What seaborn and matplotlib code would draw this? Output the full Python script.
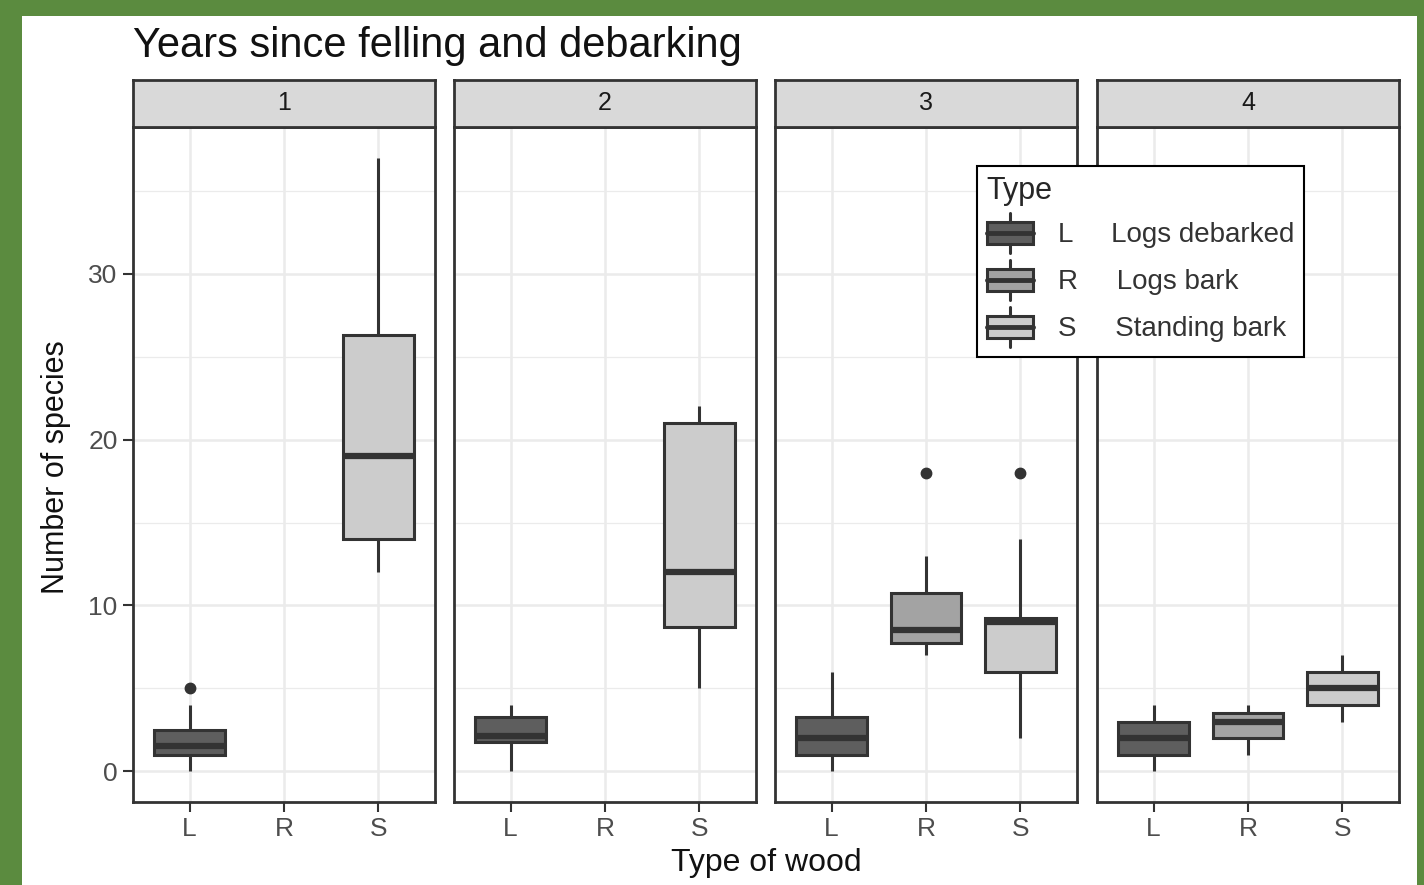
import numpy as np
import pandas as pd
import matplotlib
matplotlib.use("Agg")
import matplotlib.pyplot as plt
import seaborn as sns
from matplotlib.legend_handler import HandlerBase
from matplotlib.patches import Rectangle, Patch
from matplotlib.lines import Line2D

# ---------------- data ----------------
years = [1, 2, 3, 4]
wood_types = ["L", "R", "S"]
type_names = ["Logs debarked", "Logs bark", "Standing bark"]
fills = ["#5E5E5E", "#A3A3A3", "#CCCCCC"]

# box summaries: lower whisker, Q1, median, Q3, upper whisker
box_year = [1, 1, 2, 2, 3, 3, 3, 4, 4, 4]
box_type = ["L", "S", "L", "S", "L", "R", "S", "L", "R", "S"]
whisker_low = [0, 12, 0, 5, 0, 7, 2, 0, 1, 3]
q1 = [1, 14, 1.75, 8.7, 1, 7.75, 6, 1, 2, 4]
median = [1.5, 19, 2.1, 12, 2, 8.5, 9, 2, 3, 5]
q3 = [2.5, 26.3, 3.25, 21, 3.25, 10.75, 9.25, 3, 3.5, 6]
whisker_high = [4, 37, 4, 22, 6, 13, 14, 4, 4, 7]

outlier_year = [1, 3, 3]
outlier_type = ["L", "R", "S"]
outlier_value = [5, 18, 18]

y_ticks = [0, 10, 20, 30]

# observations reproducing each box's summary
rows = []
for yr, t, lo, a, m, b, hi in zip(box_year, box_type, whisker_low, q1, median, q3, whisker_high):
    for v in [lo, a, a, m, m, b, b, hi]:
        rows.append({"year": yr, "wood": t, "species": v})
for yr, t, v in zip(outlier_year, outlier_type, outlier_value):
    rows.append({"year": yr, "wood": t, "species": v})
df = pd.DataFrame(rows)

# ---------------- figure ----------------
sns.set_theme(style="white")
plt.rcParams["font.family"] = ["Liberation Sans", "DejaVu Sans"]

W, H = 1424, 885
fig = plt.figure(figsize=(W / 100, H / 100), dpi=100)
fig.patch.set_facecolor("#5B8B3F")
fig.add_artist(Rectangle((22 / W, 0), (1417 - 22) / W, (H - 16) / H,
                         transform=fig.transFigure, facecolor="white",
                         edgecolor="none", zorder=0))

LINE = "#333333"
palette = dict(zip(wood_types, fills))
lefts = [133, 454, 775, 1097]
pw = 302
p_top, p_bot = 127, 802
s_top = 80

for i, yr in enumerate(years):
    ax = fig.add_axes([lefts[i] / W, 1 - p_bot / H, pw / W, (p_bot - p_top) / H])
    sub = df[df["year"] == yr]
    sns.boxplot(data=sub, x="wood", y="species", hue="wood",
                order=wood_types, hue_order=wood_types, palette=palette,
                width=0.75, linecolor=LINE, linewidth=2.2, showcaps=False,
                legend=False, saturation=1,
                medianprops=dict(linewidth=4.5, color=LINE),
                flierprops=dict(marker="o", markersize=7.5,
                                markerfacecolor=LINE, markeredgecolor=LINE),
                ax=ax)
    ax.set_xlim(-0.6, 2.6)
    ax.set_ylim(-1.85, 38.85)
    ax.set_yticks(y_ticks)
    ax.set_yticks([5, 15, 25, 35], minor=True)
    ax.set_xticks(range(len(wood_types)))
    ax.set_xticklabels(wood_types)
    ax.set_axisbelow(True)
    ax.grid(which="major", color="#EBEBEB", linewidth=1.8)
    ax.grid(which="minor", axis="y", color="#EBEBEB", linewidth=0.9)
    ax.set_xlabel("")
    ax.set_ylabel("")
    for sp in ax.spines.values():
        sp.set_visible(True)
        sp.set_color(LINE)
        sp.set_linewidth(2)
    ax.tick_params(axis="both", which="major", length=7, width=1.5, color=LINE,
                   labelcolor="#4D4D4D", labelsize=19, pad=4,
                   bottom=True, left=True)
    ax.tick_params(axis="y", which="minor", length=0)
    if i > 0:
        ax.tick_params(axis="y", left=False, labelleft=False)

    sax = fig.add_axes([lefts[i] / W, 1 - p_top / H, pw / W, (p_top - s_top) / H])
    sax.set_facecolor("#D9D9D9")
    sax.set_xticks([])
    sax.set_yticks([])
    for sp in sax.spines.values():
        sp.set_visible(True)
        sp.set_color(LINE)
        sp.set_linewidth(2)
    sax.text(0.5, 0.5, str(yr), ha="center", va="center", fontsize=18,
             color="#1A1A1A", transform=sax.transAxes)

fig.text(133 / W, 1 - 46 / H, "Years since felling and debarking",
         ha="left", va="center", fontsize=30, color="#111111")
fig.text(56 / W, 1 - 467 / H, "Number of species", rotation=90,
         ha="center", va="center", fontsize=22, color="#111111")
fig.text(766 / W, 1 - 863 / H, "Type of wood", ha="center", va="center",
         fontsize=23, color="#111111")


class BoxHandler(HandlerBase):
    def create_artists(self, legend, orig_handle, xdescent, ydescent,
                       width, height, fontsize, trans):
        fc = orig_handle.get_facecolor()
        x0, y0 = -xdescent, -ydescent
        cx = x0 + width / 2
        lo, hi = y0 + height * 0.22, y0 + height * 0.78
        w1 = Line2D([cx, cx], [y0, lo], color=LINE, lw=2.2, transform=trans)
        w2 = Line2D([cx, cx], [hi, y0 + height], color=LINE, lw=2.2, transform=trans)
        box = Rectangle((x0, lo), width, hi - lo, facecolor=fc, edgecolor=LINE,
                        lw=2.2, transform=trans)
        med = Line2D([x0, x0 + width], [y0 + height / 2] * 2, color=LINE,
                     lw=3.5, transform=trans)
        return [w1, w2, box, med]


handles = [Patch(facecolor=c, edgecolor=LINE) for c in fills]
labels = [f"{t}     {n}" for t, n in zip(wood_types, type_names)]
leg = fig.legend(handles, labels, title="Type", loc="upper left",
                 bbox_to_anchor=(977 / W, 1 - 166 / H), frameon=True,
                 fancybox=False, edgecolor="black", framealpha=1,
                 fontsize=20, title_fontsize=22, alignment="left",
                 handler_map={Patch: BoxHandler()}, borderaxespad=0,
                 handlelength=1.65, handleheight=1.85, labelspacing=0.25,
                 borderpad=0.35, handletextpad=0.9)
leg.get_frame().set_linewidth(1.5)
for txt in leg.get_texts():
    txt.set_color("#333333")

fig.savefig("out.png", dpi=100, facecolor=fig.get_facecolor())
